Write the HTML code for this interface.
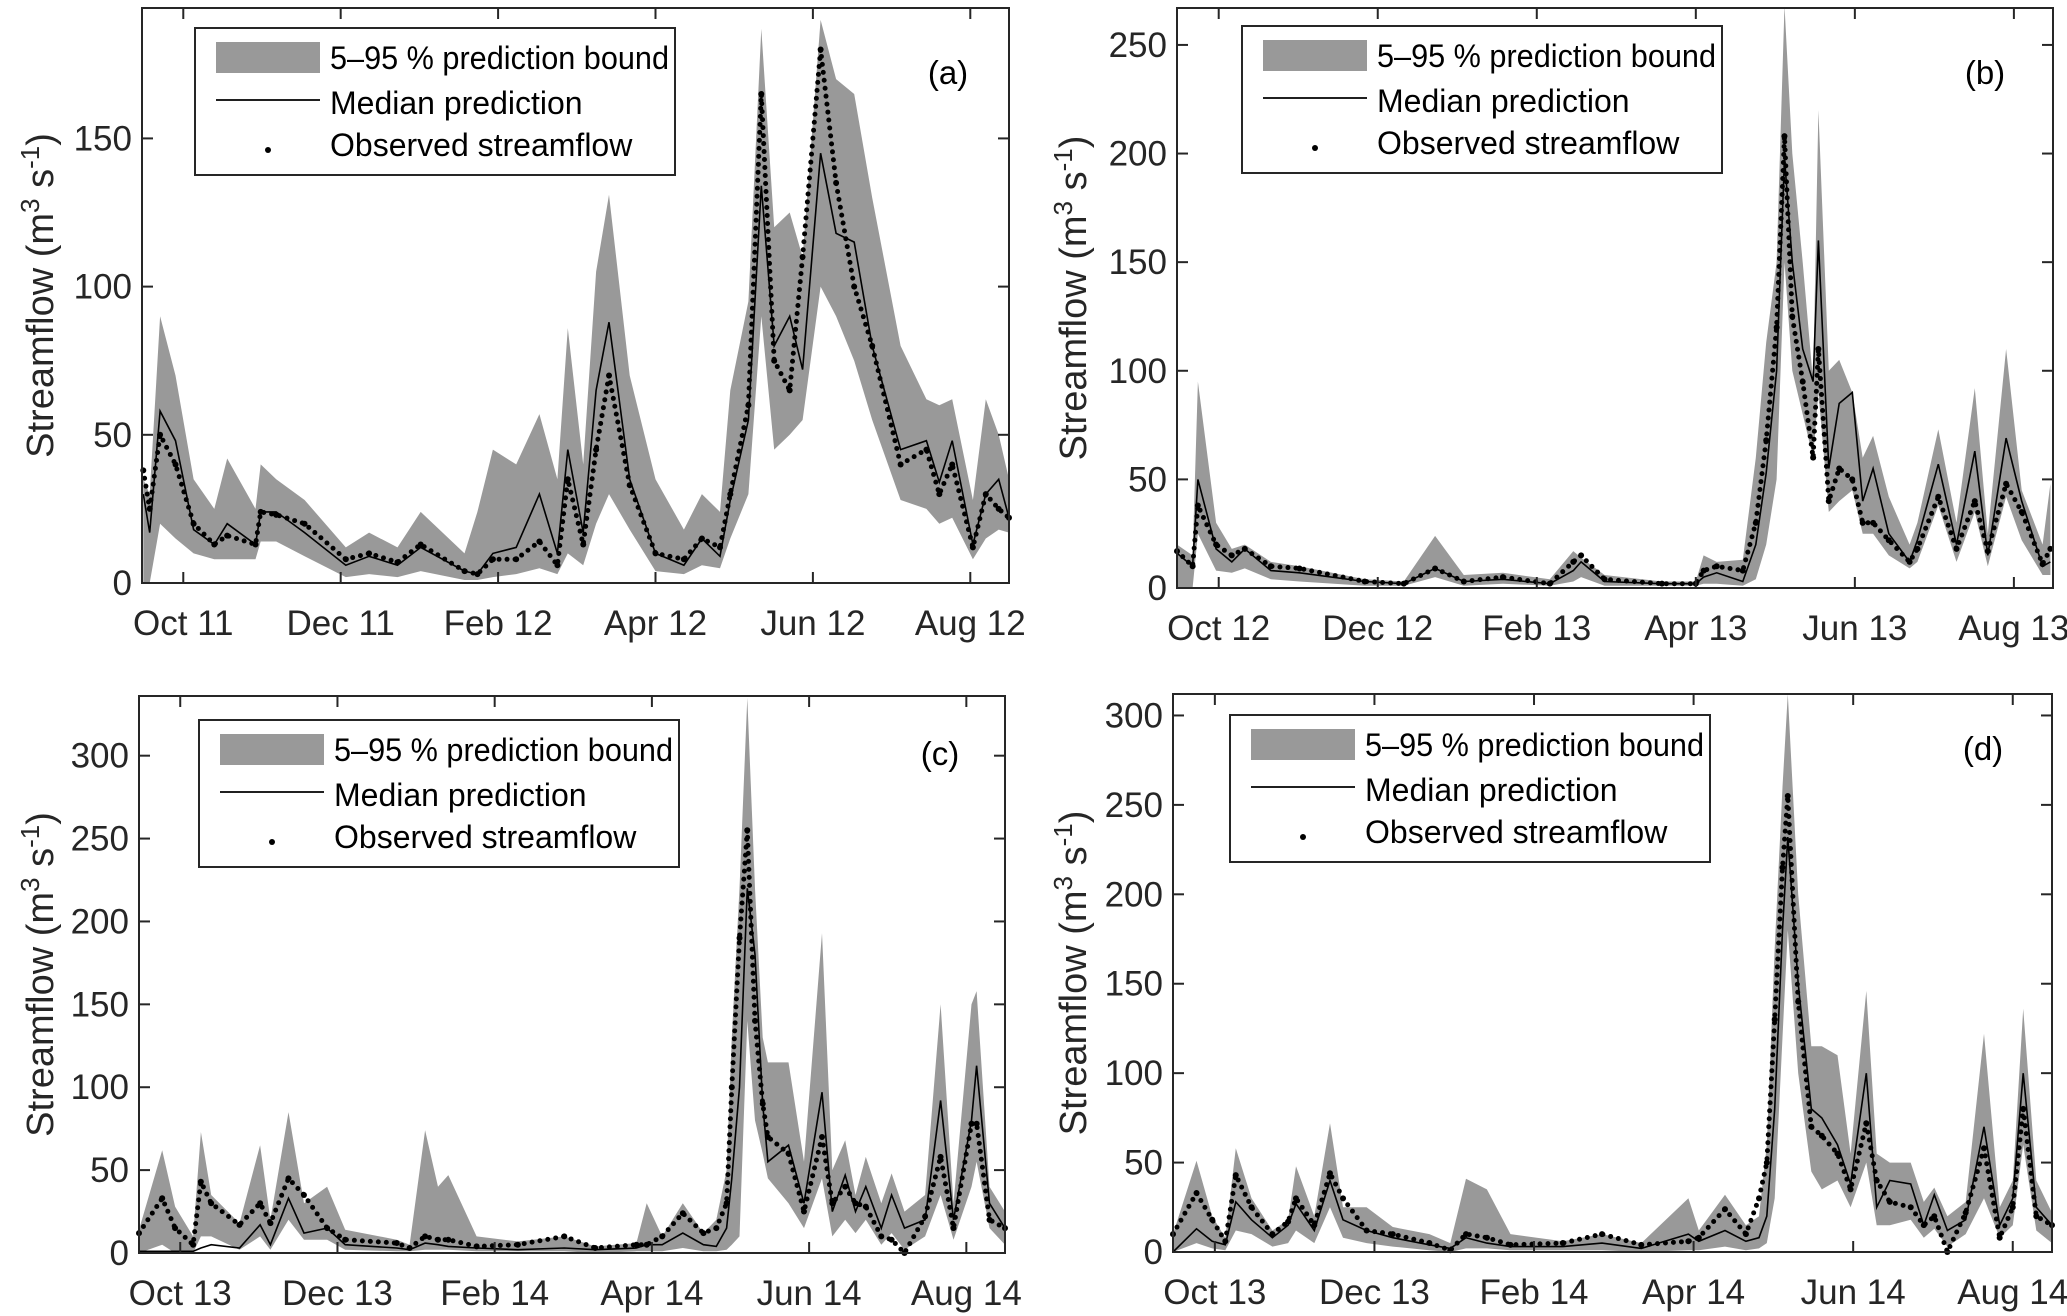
<!DOCTYPE html>
<html><head><meta charset="utf-8"><style>
html,body{margin:0;padding:0;background:#fff;}
svg{display:block;font-family:"Liberation Sans",Arial,sans-serif;}
</style></head><body>
<svg id="fig" width="2067" height="1316" viewBox="0 0 2067 1316" xmlns="http://www.w3.org/2000/svg"></svg>
<script>
// ---- Panel (a) data ----
const daysA  = [-15.5,-13,-9,-3,4,12,17,28,30,36,47,63,72,83,92,109,114,120,129,138,145,149,155,160,165,173,183,194,201,208,212,219,224,229,235,240,247,253,260,267,278,288,293,298,306,311,316,320];
const upperA = [35,30,90,70,35,25,42,25,40,35,28,12,17,12,24,10,24,45,40,57,35,86,40,105,131,70,35,18,30,24,65,95,187,120,125,110,190,170,165,130,80,62,60,62,28,62,50,35];
const medA   = [30,17,58,48,18,13,20,13,24,24,17,6,9,6,12,4,3,10,12,30,10,45,17,65,88,35,10,6,15,9,28,55,134,80,90,72,145,118,115,80,45,48,34,48,13,30,35,22];
const lowerA = [0,0,20,15,10,8,8,8,14,14,9,2,3,2,4,1,1,2,3,5,3,10,6,20,30,18,4,3,6,5,15,30,90,45,50,55,100,90,75,55,28,25,20,22,8,15,18,17];
const obsA   = [38,25,50,40,20,13,16,13,24,23,20,8,10,7,13,4,3,8,8,14,6,35,13,45,70,33,10,8,15,12,30,60,165,75,65,110,180,135,100,80,40,45,30,40,12,30,25,22];
// ---- Panel (b) data ----
const daysB  = [-16,-10,-8,-1,5,10,20,31,56,71,83,94,109,127,136,139,148,170,183,186,191,201,206,210,214,217,220,224,228,230,234,238,243,247,251,257,265,268,276,283,290,295,302,308,316,319];
const upperB = [20,15,95,30,18,20,12,10,4,3,24,6,7,4,17,14,6,3,3,15,12,13,60,113,150,268,200,150,95,220,100,105,90,60,70,42,20,30,73,30,92,25,110,45,20,48];
const medB   = [16,10,50,18,12,18,8,7,3,2,9,3,4,2,8,12,3,2,2,5,7,3,20,53,100,198,150,110,95,160,55,85,90,40,55,25,12,22,57,20,63,15,69,40,10,12];
const lowerB = [0,0,25,8,7,9,4,3,1,1,5,1,2,1,3,5,1,1,1,2,2,1,4,20,50,150,100,80,60,90,35,40,45,25,25,15,9,12,38,12,35,10,42,22,6,6];
const obsB   = [17,10,38,20,15,18,10,9,3,2,9,3,5,2,12,15,4,2,2,8,10,8,30,68,120,208,125,95,60,110,40,55,50,30,30,22,12,18,42,18,40,17,48,35,11,18];
// ---- Panel (c) data ----
const daysC  = [-16,-7,-2,5,8,12,23,31,35,42,48,57,64,84,89,95,100,104,115,131,149,161,177,181,187,195,203,208,212,214,217,220,223,226,228,236,242,249,253,258,262,266,272,276,281,289,295,300,307,309,314,320];
const upperC = [14,62,28,10,73,35,18,65,20,85,30,40,14,8,5,74,40,47,10,7,10,4,6,30,10,30,12,20,50,130,220,335,220,130,115,115,55,193,50,68,35,58,30,48,25,35,150,30,150,158,40,25];
const medC   = [1,1,1,1,3,5,3,17,5,33,12,15,5,3,2,6,5,4,3,2,3,2,3,5,5,12,5,4,15,45,100,220,180,90,55,65,30,97,25,47,25,40,15,35,15,20,92,20,80,113,30,15];
const lowerC = [0,5,0,0,10,10,2,10,2,20,8,8,2,1,1,2,2,2,1,1,1,0,1,1,1,3,1,1,2,5,10,140,80,60,45,30,15,45,10,20,12,20,5,12,2,10,35,8,40,55,15,5];
const obsC   = [12,33,15,5,43,30,17,30,18,45,35,15,8,6,3,10,8,8,4,5,10,3,5,5,10,24,12,15,30,100,190,255,140,90,70,60,25,70,30,40,30,28,10,8,0,22,58,15,78,78,20,15];
// ---- Panel (d) data ----
const daysD  = [-16,-7,-1,4,8,14,22,28,31,38,44,49,58,68,82,90,96,104,113,133,148,163,181,185,195,203,208,211,214,217,219,223,228,232,238,243,249,253,258,266,271,275,280,287,294,300,305,309,314,320];
const upperD = [10,51,20,8,58,30,12,18,48,20,72,25,25,14,10,5,41,35,10,6,10,5,30,12,32,15,20,60,170,260,312,200,115,115,110,55,146,55,50,50,28,36,20,28,122,25,40,136,40,22];
const medD   = [0,13,6,4,28,18,8,15,27,12,40,18,12,8,4,2,8,5,3,3,5,2,10,6,12,6,8,20,80,180,232,150,80,75,60,38,100,25,40,38,15,32,12,18,70,15,30,100,25,15];
const lowerD = [0,5,2,1,12,10,3,5,12,5,25,8,5,3,1,0,2,2,1,1,1,0,1,1,3,1,2,5,30,120,180,100,45,35,40,25,50,15,15,18,8,13,3,10,30,8,15,60,12,5];
const obsD   = [10,33,18,6,43,25,10,17,30,15,44,30,12,10,5,1,10,8,4,5,10,4,6,8,24,10,30,50,130,215,255,140,70,65,55,35,72,40,28,25,15,20,0,22,58,8,25,80,20,15];

const monthTicks = [0,61,122,183,244,305];
const xLabelsA = ["Oct 11","Dec 11","Feb 12","Apr 12","Jun 12","Aug 12"];
const xLabelsB = ["Oct 12","Dec 12","Feb 13","Apr 13","Jun 13","Aug 13"];
const xLabelsC = ["Oct 13","Dec 13","Feb 14","Apr 14","Jun 14","Aug 14"];
const xLabelsD = ["Oct 13","Dec 13","Feb 14","Apr 14","Jun 14","Aug 14"];
const yTicksA = [0,50,100,150];
const yTicksB = [0,50,100,150,200,250];
const yTicksC = [0,50,100,150,200,250,300];
const yTicksD = [0,50,100,150,200,250,300];

const NS="http://www.w3.org/2000/svg";
const svg=document.getElementById('fig');
function mk(tag,attrs,parent){const e=document.createElementNS(NS,tag);for(const k in attrs)e.setAttribute(k,attrs[k]);(parent||svg).appendChild(e);return e;}

const panels=[
 {id:'a',x0:142,x1:1009,y0:8,y1:583,ymax:194,days:daysA,up:upperA,med:medA,lo:lowerA,obs:obsA,xl:xLabelsA,yt:yTicksA,lx:195,ly:28,letX:948,letY:84,ylx:40},
 {id:'b',x0:1177,x1:2053,y0:8,y1:588,ymax:267,days:daysB,up:upperB,med:medB,lo:lowerB,obs:obsB,xl:xLabelsB,yt:yTicksB,lx:1242,ly:26,letX:1985,letY:84,ylx:1073},
 {id:'c',x0:139,x1:1005,y0:696,y1:1253,ymax:336,days:daysC,up:upperC,med:medC,lo:lowerC,obs:obsC,xl:xLabelsC,yt:yTicksC,lx:199,ly:720,letX:940,letY:765,ylx:40},
 {id:'d',x0:1173,x1:2052,y0:694,y1:1252,ymax:312,days:daysD,up:upperD,med:medD,lo:lowerD,obs:obsD,xl:xLabelsD,yt:yTicksD,lx:1230,ly:715,letX:1983,letY:760,ylx:1073}
];
const XMIN=-16, XMAX=320;
panels.forEach(p=>{
  const g=mk('g',{});
  
  
  const sx=d=>p.x0+(d-XMIN)/(XMAX-XMIN)*(p.x1-p.x0);
  const sy=v=>p.y1-v/p.ymax*(p.y1-p.y0);
  const clip=mk('clipPath',{id:'clip'+p.id},g);
  mk('rect',{x:p.x0,y:p.y0,width:p.x1-p.x0,height:p.y1-p.y0},clip);
  // band
  let d='M'+p.days.map((t,i)=>sx(t).toFixed(1)+','+sy(p.up[i]).toFixed(1)).join('L');
  for(let i=p.days.length-1;i>=0;i--) d+='L'+sx(p.days[i]).toFixed(1)+','+sy(p.lo[i]).toFixed(1);
  d+='Z';
  const band=mk('path',{d:d,fill:'#999999',stroke:'none','clip-path':'url(#clip'+p.id+')'},g);
  
  
  // median
  const med=mk('path',{d:'M'+p.days.map((t,i)=>sx(t).toFixed(1)+','+sy(p.med[i]).toFixed(1)).join('L'),fill:'none',stroke:'#000',"stroke-width":1.6,'clip-path':'url(#clip'+p.id+')'},g);
  
  
  // observed (dotted trace + dots)
  const ot=mk('path',{d:'M'+p.days.map((t,i)=>sx(t).toFixed(1)+','+sy(p.obs[i]).toFixed(1)).join('L'),fill:'none',stroke:'#000',"stroke-width":5,"stroke-linecap":"round","stroke-dasharray":"0 8",'clip-path':'url(#clip'+p.id+')'},g);
  
  
  p.days.forEach((t,i)=>{
    const c=mk('circle',{cx:sx(t),cy:sy(p.obs[i]),r:3,fill:'#000'},g);
    
    
  });
  // axes box
  const box=mk('rect',{x:p.x0,y:p.y0,width:p.x1-p.x0,height:p.y1-p.y0,fill:'none',stroke:'#262626','stroke-width':2},g);
  
  
  // y ticks
  p.yt.forEach(v=>{
    const y=sy(v);
    mk('line',{x1:p.x0,x2:p.x0+11,y1:y,y2:y,stroke:'#262626','stroke-width':2},g);
    mk('line',{x1:p.x1,x2:p.x1-11,y1:y,y2:y,stroke:'#262626','stroke-width':2},g);
    const t=mk('text',{x:p.x0-10,y:y+12,'text-anchor':'end','font-size':35,fill:'#262626'},g);
    t.textContent=v;
    
    
  });
  // x ticks
  monthTicks.forEach((m,i)=>{
    const x=sx(m);
    mk('line',{x1:x,x2:x,y1:p.y1,y2:p.y1-11,stroke:'#262626','stroke-width':2},g);
    mk('line',{x1:x,x2:x,y1:p.y0,y2:p.y0+11,stroke:'#262626','stroke-width':2},g);
    const t=mk('text',{x:x,y:p.y1+52,'text-anchor':'middle','font-size':35,fill:'#262626'},g);
    t.textContent=p.xl[i];
    
    
  });
  // y axis title
  const cy=(p.y0+p.y1)/2;
  const yl=mk('text',{x:0,y:0,transform:'translate('+(p.ylx+13)+','+cy+') rotate(-90)','text-anchor':'middle','font-size':38,fill:'#262626'},g);
  yl.innerHTML='Streamflow (m<tspan dy="-14" font-size="26">3</tspan><tspan dy="14"> s</tspan><tspan dy="-14" font-size="26">-1</tspan><tspan dy="14">)</tspan>';
  
  
  // panel letter
  const lt=mk('text',{x:p.letX,y:p.letY,'text-anchor':'middle','font-size':33,fill:'#000'},g);
  lt.textContent='('+p.id+')';
  
  
  // legend
  const lg=mk('g',{},g);
  
  
  mk('rect',{x:p.lx,y:p.ly,width:480,height:147,fill:'#fff',stroke:'#262626','stroke-width':2},lg);
  mk('rect',{x:p.lx+21,y:p.ly+14,width:104,height:31,fill:'#999999'},lg);
  mk('line',{x1:p.lx+21,x2:p.lx+125,y1:p.ly+72,y2:p.ly+72,stroke:'#000','stroke-width':1.8},lg);
  mk('circle',{cx:p.lx+73,cy:p.ly+122,r:3,fill:'#000'},lg);
  const labs=['5–95 % prediction bound','Median prediction','Observed streamflow'];
  const lens=[339,0,0];
  const ys=[41,86,128];
  labs.forEach((s,i)=>{
    const a={x:p.lx+135,y:p.ly+ys[i],'font-size':32,fill:'#000'};
    if(lens[i]) {a.textLength=lens[i];a.lengthAdjust='spacingAndGlyphs';}
    const t=mk('text',a,lg);
    t.textContent=s;
    
    
  });
});
</script>
</body></html>
